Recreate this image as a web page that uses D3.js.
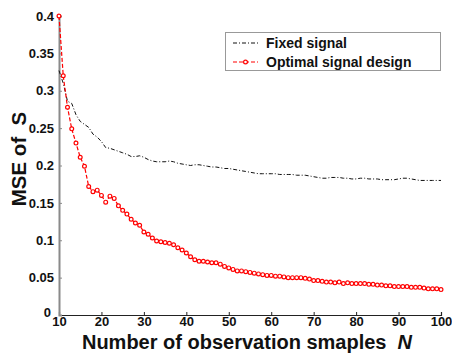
<!DOCTYPE html>
<html>
<head>
<meta charset="utf-8">
<script src="https://cdn.jsdelivr.net/npm/d3@7"></script>
<style>
  body { margin: 0; background: #fff; }
  text { font-family: Arial, "Liberation Sans", sans-serif; font-weight: bold; }
</style>
</head>
<body>
<div id="chart"></div>
<script>
// N = 10..100
const samples = d3.range(10, 101);

const fixedSignal = [
  0.327, 0.310, 0.286, 0.283, 0.268, 0.259, 0.255, 0.251, 0.242, 0.238,
  0.232, 0.224, 0.223, 0.221, 0.219, 0.217, 0.215, 0.212, 0.212, 0.213,
  0.211, 0.208, 0.206, 0.205, 0.205, 0.205, 0.206, 0.205, 0.203, 0.202,
  0.201, 0.200, 0.201, 0.201, 0.200, 0.199, 0.198, 0.198, 0.197, 0.196,
  0.196, 0.195, 0.194, 0.193, 0.192, 0.191, 0.190, 0.189, 0.189, 0.189,
  0.189, 0.189, 0.188, 0.188, 0.188, 0.188, 0.187, 0.187, 0.187, 0.186,
  0.185, 0.184, 0.183, 0.183, 0.184, 0.184, 0.184, 0.183, 0.183, 0.182,
  0.182, 0.183, 0.183, 0.182, 0.182, 0.182, 0.181, 0.181, 0.181, 0.181,
  0.182, 0.183, 0.183, 0.182, 0.181, 0.180, 0.180, 0.180, 0.180, 0.180,
  0.180
];

const optimalSignal = [
  0.400, 0.320, 0.278, 0.249, 0.230, 0.211, 0.199, 0.172, 0.165, 0.167,
  0.160, 0.151, 0.159, 0.156, 0.146, 0.140, 0.135, 0.128, 0.123, 0.120,
  0.111, 0.108, 0.103, 0.099, 0.098, 0.097, 0.096, 0.094, 0.090, 0.087,
  0.083, 0.078, 0.074, 0.072, 0.072, 0.071, 0.070, 0.070, 0.068, 0.065,
  0.063, 0.061, 0.059, 0.059, 0.058, 0.057, 0.056, 0.055, 0.054, 0.053,
  0.053, 0.052, 0.052, 0.051, 0.050, 0.050, 0.050, 0.050, 0.049, 0.048,
  0.046, 0.046, 0.045, 0.044, 0.044, 0.043, 0.044, 0.042, 0.043, 0.042,
  0.042, 0.042, 0.042, 0.041, 0.041, 0.040, 0.040, 0.039, 0.039, 0.038,
  0.038, 0.038, 0.038, 0.037, 0.037, 0.037, 0.036, 0.035, 0.035, 0.035,
  0.034
];

const xTicks = [10, 20, 30, 40, 50, 60, 70, 80, 90, 100];
const yTicks = [0, 0.05, 0.1, 0.15, 0.2, 0.25, 0.3, 0.35, 0.4];
const legendLabels = ['Fixed signal', 'Optimal signal design'];

const width = 452, height = 354;
const margin = { top: 16, right: 11, bottom: 39, left: 59 };

const svg = d3.select('#chart')
  .append('svg')
  .attr('width', width)
  .attr('height', height);

const x = d3.scaleLinear()
  .domain([10, 100])
  .range([margin.left, width - margin.right]);

const y = d3.scaleLinear()
  .domain([0, 0.4])
  .range([height - margin.bottom, margin.top]);

// bottom axis, ticks pointing inward
const xAxis = svg.append('g')
  .attr('transform', `translate(0,${height - margin.bottom})`)
  .call(d3.axisBottom(x).tickValues(xTicks).tickSize(-3).tickPadding(4).tickFormat(d3.format('d')));
xAxis.select('.domain').attr('stroke', '#222').attr('stroke-width', 1.2);
xAxis.selectAll('.tick line').attr('stroke', '#222');
xAxis.selectAll('.tick text')
  .attr('font-size', 13)
  .attr('fill', '#111')
  .attr('dy', '0.55em');

// left axis (grey)
const yAxis = svg.append('g')
  .attr('transform', `translate(${margin.left},0)`)
  .call(d3.axisLeft(y).tickValues(yTicks).tickSize(-3).tickPadding(5).tickFormat(d => d === 0 ? '0' : String(d)));
yAxis.select('.domain').attr('stroke', '#8a8a8a').attr('stroke-width', 2);
yAxis.selectAll('.tick line').attr('stroke', '#8a8a8a');
yAxis.selectAll('.tick text')
  .attr('font-size', 13)
  .attr('fill', '#111');
// nudge the "0" so it clears the "10" below it
yAxis.selectAll('.tick').filter(d => d === 0).select('text')
  .attr('dy', '0.1em')
  .attr('dx', -3);

const line = d3.line()
  .x((d, i) => x(samples[i]))
  .y(d => y(d));

svg.append('path')
  .datum(fixedSignal)
  .attr('fill', 'none')
  .attr('stroke', '#111')
  .attr('stroke-width', 1)
  .attr('stroke-dasharray', '4,2,1,2')
  .attr('d', line);

svg.append('path')
  .datum(optimalSignal)
  .attr('fill', 'none')
  .attr('stroke', '#f00')
  .attr('stroke-width', 1.2)
  .attr('stroke-dasharray', '4,2')
  .attr('d', line);

svg.append('g')
  .selectAll('circle')
  .data(optimalSignal)
  .enter()
  .append('circle')
  .attr('cx', (d, i) => x(samples[i]))
  .attr('cy', d => y(d))
  .attr('r', 1.9)
  .attr('fill', '#fff')
  .attr('stroke', '#f00')
  .attr('stroke-width', 1.2);

// axis titles
svg.append('text')
  .attr('x', 247)
  .attr('y', 349)
  .attr('text-anchor', 'middle')
  .attr('font-size', 20)
  .attr('fill', '#111')
  .attr('xml:space', 'preserve')
  .text('Number of observation smaples  ')
  .append('tspan')
  .attr('font-style', 'italic')
  .text('N');

svg.append('text')
  .attr('transform', 'translate(26,159) rotate(-90)')
  .attr('text-anchor', 'middle')
  .attr('font-size', 20.5)
  .attr('fill', '#111')
  .attr('xml:space', 'preserve')
  .text('MSE of  S');

// legend
const legend = svg.append('g');
legend.append('rect')
  .attr('x', 225.5)
  .attr('y', 32.5)
  .attr('width', 215)
  .attr('height', 38)
  .attr('fill', '#fff')
  .attr('stroke', '#999')
  .attr('stroke-width', 1);

const legendY = [43, 62];
legend.append('line')
  .attr('x1', 233).attr('x2', 258)
  .attr('y1', legendY[0]).attr('y2', legendY[0])
  .attr('stroke', '#111')
  .attr('stroke-dasharray', '4,2,1,2');
legend.append('line')
  .attr('x1', 233).attr('x2', 258)
  .attr('y1', legendY[1]).attr('y2', legendY[1])
  .attr('stroke', '#f00')
  .attr('stroke-width', 1.2)
  .attr('stroke-dasharray', '4,2');
legend.append('circle')
  .attr('cx', 245.5).attr('cy', legendY[1]).attr('r', 1.9)
  .attr('fill', '#fff').attr('stroke', '#f00').attr('stroke-width', 1.2);

legend.selectAll('text.lbl')
  .data(legendLabels)
  .enter()
  .append('text')
  .attr('class', 'lbl')
  .attr('x', 266)
  .attr('y', (d, i) => legendY[i])
  .attr('dy', '0.36em')
  .attr('font-size', 14)
  .attr('fill', '#111')
  .text(d => d);
</script>
</body>
</html>
